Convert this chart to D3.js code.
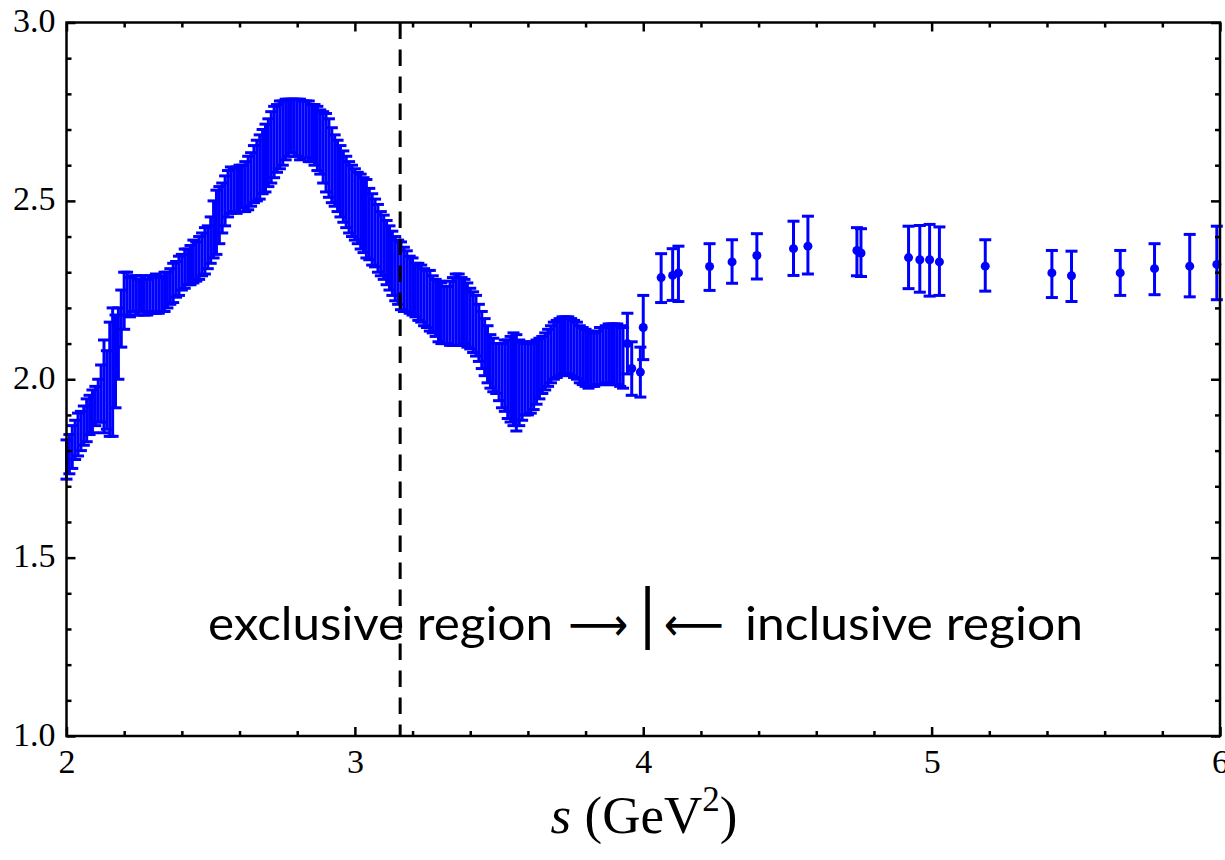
<!DOCTYPE html>
<html>
<head>
<meta charset="utf-8">
<script src="https://cdn.jsdelivr.net/npm/d3@7"></script>
<style>
html,body{margin:0;padding:0;background:#fff;}
svg{display:block;}
</style>
</head>
<body>
<svg id="chart" width="1225" height="860"></svg>
<script>
// ---- Data: exclusive region (dense error bars) ----
const exclS = [
2.00,2.01,2.02,2.03,2.04,2.05,2.06,2.07,2.08,2.09,
2.10,2.11,2.12,2.13,2.14,2.15,2.16,2.17,2.18,2.19,
2.20,2.21,2.22,2.23,2.24,2.25,2.26,2.27,2.28,2.29,
2.30,2.31,2.32,2.33,2.34,2.35,2.36,2.37,2.38,2.39,
2.40,2.41,2.42,2.43,2.44,2.45,2.46,2.47,2.48,2.49,
2.50,2.51,2.52,2.53,2.54,2.55,2.56,2.57,2.58,2.59,
2.60,2.61,2.62,2.63,2.64,2.65,2.66,2.67,2.68,2.69,
2.70,2.71,2.72,2.73,2.74,2.75,2.76,2.77,2.78,2.79,
2.80,2.81,2.82,2.83,2.84,2.85,2.86,2.87,2.88,2.89,
2.90,2.91,2.92,2.93,2.94,2.95,2.96,2.97,2.98,2.99,
3.00,3.01,3.02,3.03,3.04,3.05,3.06,3.07,3.08,3.09,
3.10,3.11,3.12,3.13,3.14,3.15,3.16,3.17,3.18,3.19,
3.20,3.21,3.22,3.23,3.24,3.25,3.26,3.27,3.28,3.29,
3.30,3.31,3.32,3.33,3.34,3.35,3.36,3.37,3.38,3.39,
3.40,3.41,3.42,3.43,3.44,3.45,3.46,3.47,3.48,3.49,
3.50,3.51,3.52,3.53,3.54,3.55,3.56,3.57,3.58,3.59,
3.60,3.61,3.62,3.63,3.64,3.65,3.66,3.67,3.68,3.69,
3.70,3.71,3.72,3.73,3.74,3.75,3.76,3.77,3.78,3.79,
3.80,3.81,3.82,3.83,3.84,3.85,3.86,3.87,3.88,3.89,
3.90,3.91,3.92,3.93];
const exclV = [
1.775,1.79,1.81,1.83,1.845,1.855,1.87,1.885,1.90,1.91,
1.925,1.94,1.96,1.98,1.97,2.00,2.02,2.05,2.10,2.17,
2.22,2.24,2.23,2.24,2.235,2.23,2.24,2.235,2.23,2.24,
2.235,2.24,2.235,2.24,2.245,2.25,2.26,2.27,2.28,2.29,
2.30,2.31,2.315,2.32,2.33,2.33,2.34,2.35,2.36,2.37,
2.39,2.42,2.44,2.46,2.48,2.50,2.52,2.53,2.53,2.53,
2.535,2.54,2.54,2.55,2.56,2.575,2.585,2.595,2.61,2.62,
2.635,2.65,2.665,2.675,2.685,2.69,2.70,2.705,2.71,2.705,
2.705,2.70,2.70,2.70,2.695,2.69,2.685,2.675,2.665,2.65,
2.635,2.62,2.60,2.585,2.57,2.555,2.54,2.525,2.51,2.50,
2.49,2.48,2.47,2.46,2.45,2.435,2.42,2.41,2.395,2.38,
2.37,2.355,2.34,2.325,2.31,2.30,2.29,2.28,2.275,2.265,
2.26,2.25,2.245,2.24,2.23,2.225,2.22,2.21,2.20,2.19,
2.185,2.18,2.18,2.185,2.19,2.195,2.195,2.19,2.19,2.18,
2.17,2.16,2.15,2.13,2.11,2.09,2.07,2.05,2.04,2.03,
2.02,2.01,2.01,2.00,2.00,2.00,1.99,1.99,1.995,2.00,
2.00,2.005,2.01,2.02,2.03,2.04,2.05,2.06,2.07,2.08,
2.085,2.09,2.095,2.095,2.095,2.09,2.085,2.08,2.07,2.065,
2.06,2.055,2.055,2.055,2.06,2.065,2.065,2.07,2.07,2.07,
2.07,2.07,2.065,2.06];
const exclErr = [
0.055,0.055,0.06,0.055,0.06,0.055,0.055,0.06,0.055,0.06,
0.055,0.06,0.08,0.13,0.11,0.16,0.18,0.13,0.10,0.08,
0.08,0.06,0.055,0.05,0.055,0.05,0.05,0.055,0.05,0.05,
0.05,0.055,0.05,0.05,0.055,0.05,0.05,0.055,0.05,0.055,
0.05,0.055,0.05,0.055,0.06,0.055,0.06,0.06,0.065,0.06,
0.065,0.08,0.09,0.08,0.07,0.07,0.065,0.065,0.06,0.065,
0.065,0.06,0.07,0.075,0.075,0.08,0.085,0.09,0.09,0.095,
0.095,0.10,0.10,0.095,0.095,0.09,0.085,0.08,0.075,0.08,
0.08,0.085,0.08,0.08,0.085,0.08,0.085,0.09,0.09,0.10,
0.11,0.11,0.105,0.10,0.10,0.10,0.10,0.10,0.10,0.10,
0.10,0.10,0.105,0.105,0.11,0.10,0.10,0.095,0.095,0.09,
0.09,0.09,0.09,0.09,0.09,0.09,0.095,0.09,0.085,0.08,
0.08,0.075,0.08,0.08,0.08,0.08,0.085,0.08,0.08,0.085,
0.085,0.08,0.08,0.09,0.095,0.10,0.10,0.095,0.09,0.09,
0.085,0.085,0.085,0.08,0.08,0.08,0.08,0.075,0.075,0.07,
0.08,0.09,0.10,0.11,0.12,0.13,0.135,0.12,0.11,0.10,
0.10,0.10,0.095,0.09,0.085,0.08,0.08,0.08,0.08,0.08,
0.08,0.08,0.08,0.08,0.08,0.08,0.08,0.08,0.08,0.08,
0.08,0.08,0.075,0.075,0.075,0.08,0.08,0.08,0.085,0.085,
0.085,0.085,0.085,0.085];

// ---- Data: last exclusive points near s = 4 (with markers) ----
const edgeS   = [3.945, 3.96, 3.99, 4.00];
const edgeV   = [2.100, 2.03, 2.02, 2.145];
const edgeErr = [0.085, 0.075, 0.07, 0.09];

// ---- Data: inclusive region ----
const inclS  = [4.062,4.102,4.122,4.23,4.308,4.394,4.521,4.571,4.741,4.755,4.92,4.959,4.993,5.027,5.186,5.417,5.485,5.654,5.773,5.895,5.989];
const inclV  = [2.285,2.291,2.298,2.316,2.329,2.347,2.366,2.373,2.361,2.354,2.341,2.335,2.335,2.329,2.317,2.298,2.29,2.298,2.31,2.317,2.322];
const inclHi = [2.352,2.366,2.373,2.38,2.391,2.408,2.443,2.457,2.425,2.422,2.429,2.431,2.434,2.427,2.391,2.361,2.359,2.361,2.38,2.406,2.429];
const inclLo = [2.215,2.221,2.218,2.249,2.269,2.281,2.291,2.295,2.29,2.288,2.254,2.244,2.233,2.235,2.247,2.229,2.218,2.235,2.237,2.231,2.223];

// ---- Axes ticks ----
const xMajor = [2,3,4,5,6];
const xMinor = [2.2,2.4,2.6,2.8,3.2,3.4,3.6,3.8,4.2,4.4,4.6,4.8,5.2,5.4,5.6,5.8];
const yMajor = [1.0,1.5,2.0,2.5,3.0];
const yMinor = [1.1,1.2,1.3,1.4,1.6,1.7,1.8,1.9,2.1,2.2,2.3,2.4,2.6,2.7,2.8,2.9];
const sTau2 = 3.157; // dashed boundary
const sSplit = 4.015; // exclusive / inclusive marker

// ---- Build ----
const svg = d3.select("#chart");
const L = 66.5, R = 1220, T = 22.5, B = 736;
const x = d3.scaleLinear().domain([2,6]).range([L,R]);
const y = d3.scaleLinear().domain([1,3]).range([B,T]);
const blue = "#0000ff";
const capW = 6;

const excl = exclS.map((s,i)=>({s, v:exclV[i], lo:exclV[i]-exclErr[i], hi:exclV[i]+exclErr[i]}));
const edge = edgeS.map((s,i)=>({s, v:edgeV[i], lo:edgeV[i]-edgeErr[i], hi:edgeV[i]+edgeErr[i]}));
const incl = inclS.map((s,i)=>({s, v:inclV[i], lo:inclLo[i], hi:inclHi[i]}));

function drawBars(g, data, withDot){
  const grp = g.selectAll(null).data(data).enter().append("g");
  grp.append("line").attr("x1",d=>x(d.s)).attr("x2",d=>x(d.s))
     .attr("y1",d=>y(d.hi)).attr("y2",d=>y(d.lo));
  grp.append("line").attr("x1",d=>x(d.s)-capW).attr("x2",d=>x(d.s)+capW)
     .attr("y1",d=>y(d.hi)).attr("y2",d=>y(d.hi));
  grp.append("line").attr("x1",d=>x(d.s)-capW).attr("x2",d=>x(d.s)+capW)
     .attr("y1",d=>y(d.lo)).attr("y2",d=>y(d.lo));
  if(withDot){
    grp.append("circle").attr("cx",d=>x(d.s)).attr("cy",d=>y(d.v)).attr("r",4.5)
       .attr("fill",blue).attr("stroke","none");
  }
}
const gData = svg.append("g").attr("stroke",blue).attr("stroke-width",3);
drawBars(gData, excl, false);
drawBars(gData, edge, true);
drawBars(gData, incl, true);

// dashed line
svg.append("line").attr("x1",x(sTau2)).attr("x2",x(sTau2)).attr("y1",T).attr("y2",B)
  .attr("stroke","#000").attr("stroke-width",3).attr("stroke-dasharray","16.5,10.5");

// Axes: inward ticks on all four sides
const serif = "'Liberation Serif','Times New Roman',serif";
function styleAxis(g){
  g.select(".domain").remove();
  g.selectAll(".tick line").attr("stroke","#000").attr("stroke-width",2.5);
  g.selectAll(".tick text").attr("font-family",serif)
    .attr("font-size",34).attr("fill","#000");
}
svg.append("g").attr("transform",`translate(0,${B})`)
  .call(d3.axisBottom(x).tickValues(xMajor).tickSize(-9).tickPadding(0).tickFormat(d3.format("d")))
  .call(styleAxis).call(g=>g.selectAll(".tick text").attr("dy",0).attr("y",37));
svg.append("g").attr("transform",`translate(0,${B})`)
  .call(d3.axisBottom(x).tickValues(xMinor).tickSize(-5).tickFormat(""))
  .call(styleAxis);
svg.append("g").attr("transform",`translate(0,${T})`)
  .call(d3.axisTop(x).tickValues(xMajor).tickSize(-9).tickFormat(""))
  .call(styleAxis);
svg.append("g").attr("transform",`translate(0,${T})`)
  .call(d3.axisTop(x).tickValues(xMinor).tickSize(-5).tickFormat(""))
  .call(styleAxis);
svg.append("g").attr("transform",`translate(${L},0)`)
  .call(d3.axisLeft(y).tickValues(yMajor).tickSize(-9).tickPadding(12).tickFormat(d3.format(".1f")))
  .call(styleAxis).call(g=>g.selectAll(".tick text").attr("dy",0).attr("y",9).attr("x",-11));
svg.append("g").attr("transform",`translate(${L},0)`)
  .call(d3.axisLeft(y).tickValues(yMinor).tickSize(-5).tickFormat(""))
  .call(styleAxis);
svg.append("g").attr("transform",`translate(${R},0)`)
  .call(d3.axisRight(y).tickValues(yMajor).tickSize(-9).tickFormat(""))
  .call(styleAxis);
svg.append("g").attr("transform",`translate(${R},0)`)
  .call(d3.axisRight(y).tickValues(yMinor).tickSize(-5).tickFormat(""))
  .call(styleAxis);

// frame
svg.append("rect").attr("x",L).attr("y",T).attr("width",R-L).attr("height",B-T)
  .attr("fill","none").attr("stroke","#000").attr("stroke-width",2.5);

// x-axis title
const title = svg.append("text").attr("x",644).attr("y",833).attr("text-anchor","middle")
  .attr("font-family",serif).attr("font-size",53).attr("fill","#000");
title.append("tspan").attr("font-style","italic").text("s");
title.append("tspan").text(" (GeV");
title.append("tspan").attr("font-size",35).attr("dy",-22).text("2");
title.append("tspan").attr("dy",22).text(")");

// annotation
const annFont = "Lato, 'Open Sans', sans-serif";
svg.append("text").attr("x",208).attr("y",640).attr("font-family",annFont).attr("font-size",47)
  .attr("fill","#000").attr("textLength",345).attr("lengthAdjust","spacingAndGlyphs").text("exclusive region");
svg.append("text").attr("x",568).attr("y",640).attr("font-family","'DejaVu Sans'").attr("font-size",46)
  .attr("fill","#000").attr("textLength",60).attr("lengthAdjust","spacingAndGlyphs").text("⟶");
svg.append("line").attr("x1",x(sSplit)).attr("x2",x(sSplit)).attr("y1",586).attr("y2",650)
  .attr("stroke","#000").attr("stroke-width",4.5);
svg.append("text").attr("x",664).attr("y",640).attr("font-family","'DejaVu Sans'").attr("font-size",46)
  .attr("fill","#000").attr("textLength",60).attr("lengthAdjust","spacingAndGlyphs").text("⟵");
svg.append("text").attr("x",745).attr("y",640).attr("font-family",annFont).attr("font-size",47)
  .attr("fill","#000").attr("textLength",338).attr("lengthAdjust","spacingAndGlyphs").text("inclusive region");
</script>
</body>
</html>
